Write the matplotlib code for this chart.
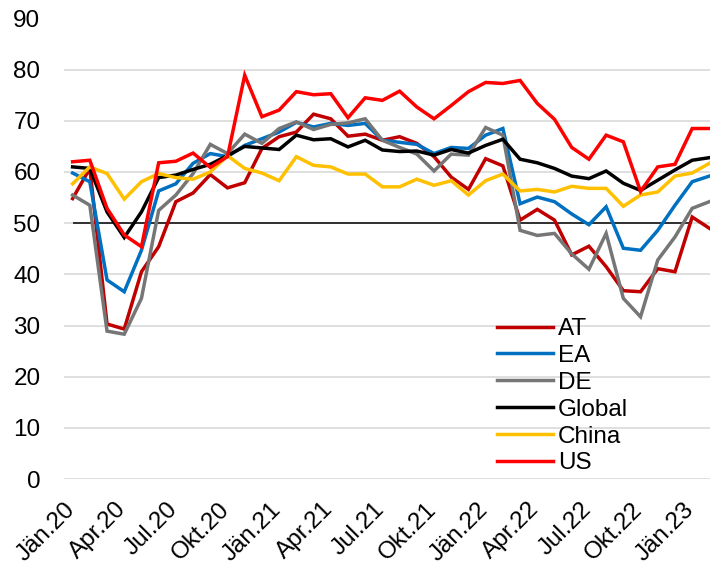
import numpy as np
import matplotlib
matplotlib.use("Agg")
import matplotlib.pyplot as plt
from matplotlib.transforms import ScaledTranslation

plt.rcParams['font.family'] = ['Liberation Sans', 'DejaVu Sans']

# Monthly values, Jän.20 .. Feb.23
months = ['Jän.20', 'Feb.20', 'Mär.20', 'Apr.20', 'Mai.20', 'Jun.20',
          'Jul.20', 'Aug.20', 'Sep.20', 'Okt.20', 'Nov.20', 'Dez.20',
          'Jän.21', 'Feb.21', 'Mär.21', 'Apr.21', 'Mai.21', 'Jun.21',
          'Jul.21', 'Aug.21', 'Sep.21', 'Okt.21', 'Nov.21', 'Dez.21',
          'Jän.22', 'Feb.22', 'Mär.22', 'Apr.22', 'Mai.22', 'Jun.22',
          'Jul.22', 'Aug.22', 'Sep.22', 'Okt.22', 'Nov.22', 'Dez.22',
          'Jän.23', 'Feb.23']

at = [54.8, 60.7, 30.3, 29.3, 40.5, 45.4, 54.2, 55.9, 59.5, 56.9, 57.9, 64.6,
      66.9, 67.8, 71.3, 70.4, 67.0, 67.4, 66.2, 66.9, 65.6, 63.0, 59.0, 56.6,
      62.6, 61.2, 50.6, 52.7, 50.6, 43.8, 45.5, 41.5, 36.8, 36.6, 41.1, 40.5,
      51.2, 49.0]
ea = [59.8, 58.1, 38.9, 36.6, 44.7, 56.3, 57.7, 61.7, 63.6, 63.0, 65.2, 66.5,
      67.8, 69.7, 68.8, 69.5, 69.1, 69.5, 66.2, 65.8, 65.4, 63.6, 64.8, 64.6,
      67.2, 68.5, 53.8, 55.1, 54.2, 51.8, 49.7, 53.2, 45.1, 44.7, 48.6, 53.5,
      58.1, 59.2]
de = [55.5, 53.5, 28.9, 28.3, 35.3, 52.5, 55.5, 59.7, 65.4, 63.6, 67.4, 65.6,
      68.5, 69.8, 68.3, 69.3, 69.6, 70.4, 66.2, 64.8, 63.5, 60.2, 63.5, 63.3,
      68.7, 67.2, 48.6, 47.6, 48.0, 44.0, 41.0, 48.0, 35.3, 31.7, 42.8, 47.3,
      52.9, 54.2]
glob = [61.0, 60.7, 52.2, 47.2, 52.2, 58.9, 59.4, 60.5, 61.5, 63.2, 65.0, 64.7,
        64.4, 67.2, 66.3, 66.5, 64.9, 66.2, 64.3, 64.0, 64.1, 63.3, 64.4, 63.7,
        65.2, 66.4, 62.5, 61.8, 60.7, 59.2, 58.7, 60.2, 57.8, 56.4, 58.4, 60.4,
        62.3, 62.8]
china = [57.7, 61.0, 59.7, 54.7, 58.1, 59.7, 58.9, 58.6, 60.0, 63.2, 60.7, 59.8,
         58.3, 63.0, 61.3, 61.0, 59.6, 59.6, 57.1, 57.1, 58.6, 57.4, 58.3, 55.5,
         58.3, 59.6, 56.3, 56.6, 56.1, 57.2, 56.8, 56.8, 53.3, 55.5, 56.1, 59.2,
         59.8, 61.7]
us = [62.0, 62.3, 52.9, 47.7, 45.4, 61.8, 62.1, 63.7, 60.9, 63.0, 78.9, 70.8,
      72.1, 75.7, 75.1, 75.3, 70.6, 74.5, 74.0, 75.8, 72.7, 70.4, 73.0, 75.7,
      77.5, 77.3, 77.9, 73.4, 70.3, 64.8, 62.5, 67.2, 65.9, 56.2, 61.0, 61.5,
      68.5, 68.5]

threshold = 50
threshold_end = 'Jän.23'

series = [
    ('AT', at, '#C00000'),
    ('EA', ea, '#0070C0'),
    ('DE', de, '#767676'),
    ('Global', glob, '#000000'),
    ('China', china, '#FFC000'),
    ('US', us, '#FF0000'),
]

fig = plt.figure(figsize=(7.10, 5.69), dpi=100)
W, H = 710, 569
# plot area in pixels (right side runs past the cropped edge)
left, right, top, bottom = 64, 718, 18.5, 479
ax = fig.add_axes([left / W, 1 - bottom / H, (right - left) / W, (bottom - top) / H])

x = np.arange(len(months))
ax.hlines(threshold, 0, months.index(threshold_end), color='black', lw=1.1, zorder=2)
for name, vals, col in series:
    ax.plot(x, vals, color=col, lw=2.5, label=name, zorder=3,
            solid_joinstyle='miter')

ax.set_xlim(-0.5, len(months) - 0.5)
ax.set_ylim(0, 90)
ax.set_yticks(range(0, 91, 10))
ax.yaxis.grid(True, color='#d9d9d9', lw=1.2)
ax.set_axisbelow(True)
for s in ax.spines.values():
    s.set_visible(False)

ax.set_xticks(x[::3])
ax.set_xticklabels(months[::3], rotation=45, ha='right', rotation_mode='anchor')
ax.tick_params(axis='both', length=0, labelsize=17.5, colors='black')
ax.tick_params(axis='y', pad=17)
ax.tick_params(axis='x', pad=6)
shift = ScaledTranslation(-9 / 100, -11 / 100, fig.dpi_scale_trans)
for lbl in ax.get_xticklabels():
    lbl.set_transform(lbl.get_transform() + shift)

leg = ax.legend(loc='upper left', bbox_to_anchor=(497 / W, 1 - 318 / H),
                bbox_transform=fig.transFigure, frameon=False, fontsize=17.5,
                handlelength=2.3, handletextpad=0.2, labelspacing=0.2,
                borderaxespad=0, borderpad=0)

fig.savefig('out.png', dpi=100)
